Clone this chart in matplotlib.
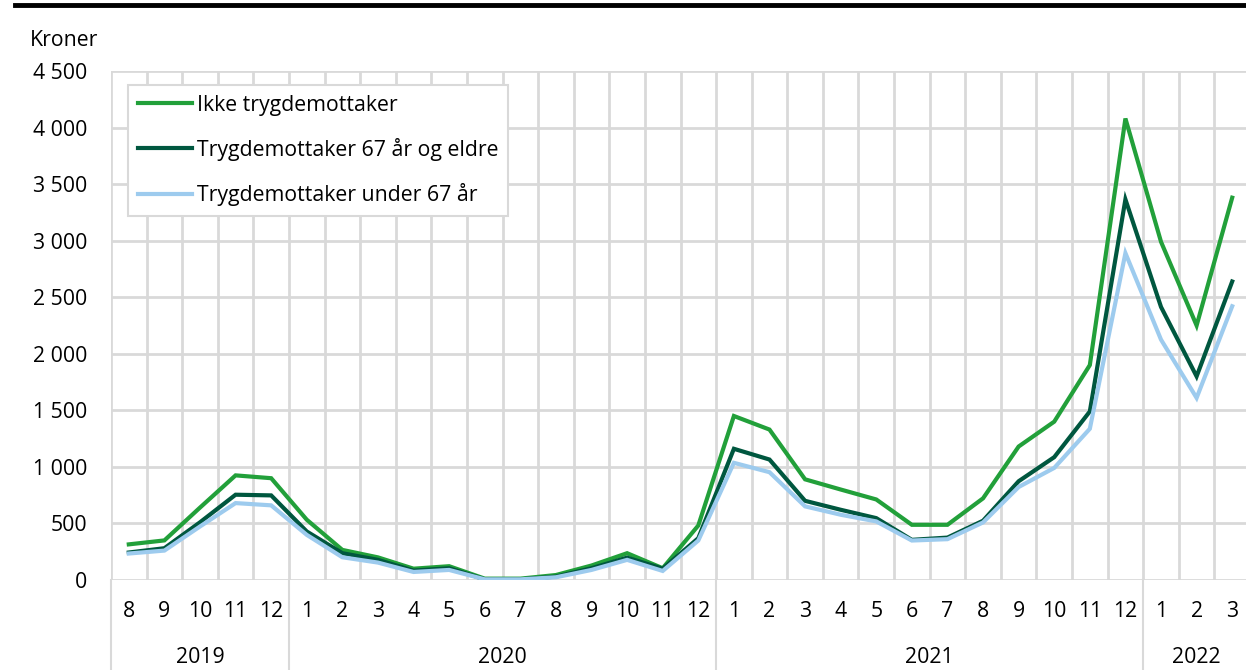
import matplotlib
matplotlib.use("Agg")
import matplotlib.pyplot as plt
from matplotlib.lines import Line2D
import matplotlib.transforms as mtransforms

plt.rcParams["font.family"] = ["Open Sans", "DejaVu Sans"]
plt.rcParams["font.size"] = 15.3

# months Aug 2019 .. Mar 2022
months = ["8", "9", "10", "11", "12"] + [str(m) for m in range(1, 13)] * 2 + ["1", "2", "3"]
years = ["2019", "2020", "2021", "2022"]
year_counts = [5, 12, 12, 3]

ikke = [315, 350, 640, 925, 900,
        533, 266, 200, 100, 122, 12, 12, 44, 128, 237, 104, 482,
        1450, 1330, 890, 800, 712, 488, 488, 722, 1180, 1400, 1900, 4080,
        2990, 2250, 3380]
over67 = [243, 281, 510, 754, 748,
          429, 237, 178, 83, 104, 6, 6, 30, 104, 198, 100, 370,
          1160, 1065, 700, 621, 547, 355, 375, 524, 873, 1086, 1490, 3365,
          2414, 1800, 2639]
under67 = [234, 260, 473, 680, 660,
           399, 201, 154, 71, 89, 6, 6, 24, 89, 178, 80, 349,
           1036, 953, 651, 577, 518, 349, 361, 509, 822, 991, 1337, 2890,
           2125, 1610, 2420]

series = [("Ikke trygdemottaker", ikke, "#22a03a"),
          ("Trygdemottaker 67 år og eldre", over67, "#00573f"),
          ("Trygdemottaker under 67 år", under67, "#9dcbee")]

W, H = 1246, 670
fig = plt.figure(figsize=(W / 100, H / 100), dpi=100)
ax = fig.add_axes([111 / W, 1 - 580 / H, 1139 / W, 509 / H])
x = list(range(len(months)))
for lab, vals, c in series:
    ax.plot(x, vals, color=c, lw=3, label=lab, solid_joinstyle="miter")

ax.set_xlim(-0.5, len(months) - 0.5)
ax.set_ylim(0, 4500)
ax.set_yticks(range(0, 4501, 500))
ax.set_yticklabels([f"{v:,}".replace(",", " ") for v in range(0, 4501, 500)])
ax.set_xticks(x)
ax.set_xticklabels(months)
ax.set_xticks([i + 0.5 for i in x[:-1]] + [-0.5], minor=True)
ax.tick_params(axis="both", which="both", length=0)
ax.tick_params(axis="x", pad=15)
ax.tick_params(axis="y", pad=17)
ax.grid(True, which="major", axis="y", color="#d9d9d9", lw=2)
ax.grid(True, which="minor", axis="x", color="#d9d9d9", lw=2)
ax.set_axisbelow(True)
for sp in ax.spines.values():
    sp.set_visible(False)

# year labels and separators below the axis
tr = mtransforms.blended_transform_factory(ax.transData, ax.transAxes)
start = -0.5
for yr, n in zip(years, year_counts):
    ax.add_line(Line2D([start, start], [0, -0.18], transform=tr, color="#d9d9d9", lw=1.5, clip_on=False))
    ax.text(start + n / 2, -0.153, yr, transform=tr, ha="center", va="center")
    start += n

fig.text(30 / W, 1 - 40 / H, "Kroner", ha="left", va="center")

leg = ax.legend(loc="upper left", bbox_to_anchor=(17 / 1139, 1 - 14 / 509), frameon=True,
                fancybox=False, edgecolor="#d9d9d9", framealpha=1, handlelength=2.55,
                handletextpad=0.25, labelspacing=1.05, borderpad=0.45, borderaxespad=0)
leg.get_frame().set_linewidth(1.5)

fig.add_artist(Line2D([15 / W, 1], [1 - 5 / H, 1 - 5 / H], color="black", lw=3.5))

fig.savefig("out.png", dpi=100)
